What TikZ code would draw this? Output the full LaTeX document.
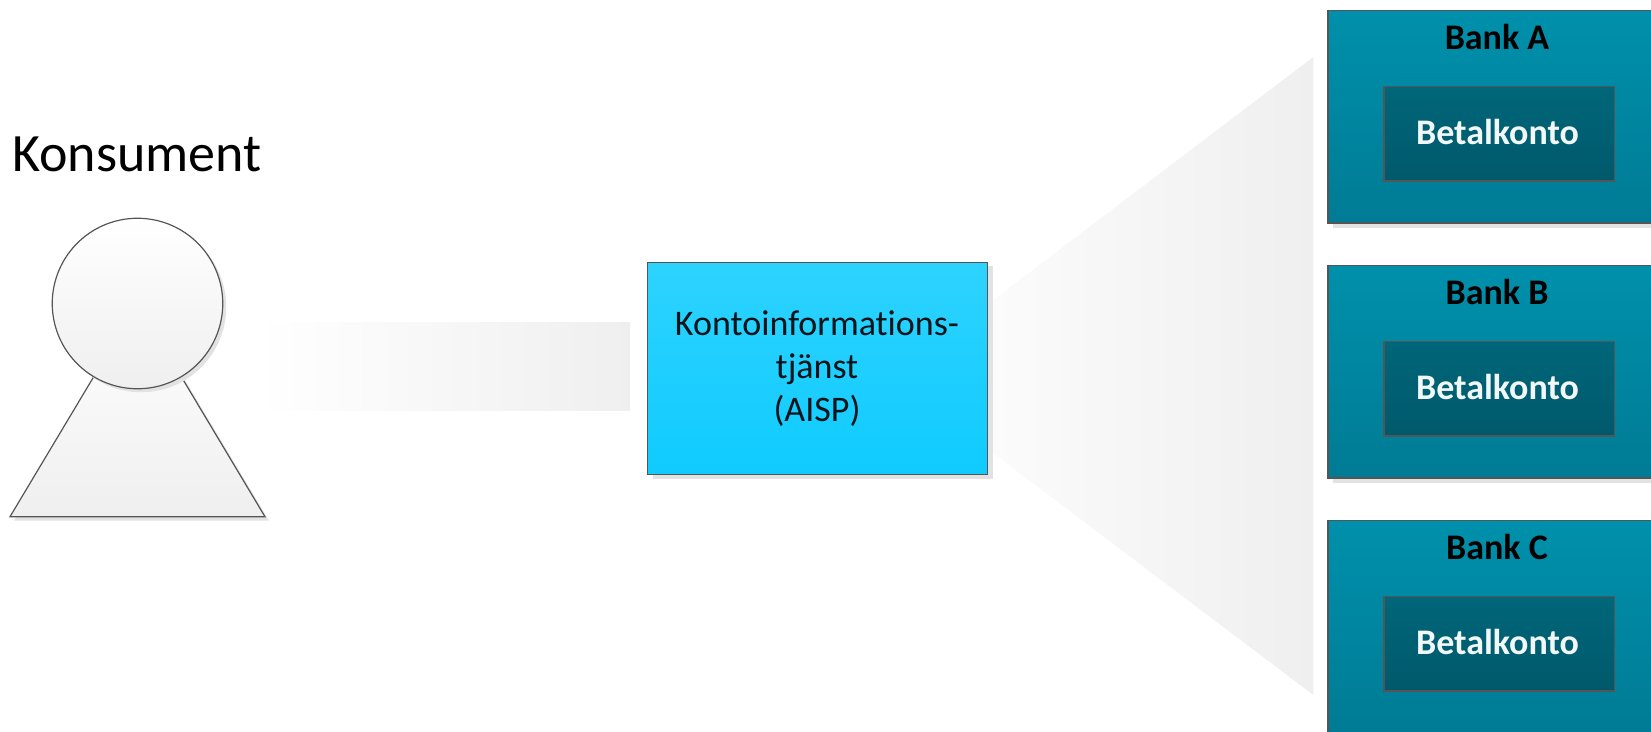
\documentclass[tikz,border=0pt]{standalone}
\usepackage{fontspec}
\setmainfont[Ligatures=NoCommon]{Carlito}
\definecolor{shadowgray}{HTML}{E2E2E2}
\definecolor{fadegray}{HTML}{EFEFEF}
\definecolor{fadestart}{HTML}{FBFBFB}
\definecolor{linegray}{HTML}{555555}
\definecolor{banktop}{HTML}{0090AB}
\definecolor{bankbot}{HTML}{007B95}
\definecolor{acctop}{HTML}{006679}
\definecolor{accbot}{HTML}{00596B}
\definecolor{svctop}{HTML}{2DD3FF}
\definecolor{svcbot}{HTML}{10CBFF}
\tikzset{
  x=1pt,y=-1pt,
  outlined/.style={draw=linegray,line width=1.2pt},
  neutral/.style={outlined,top color=white,bottom color=fadegray},
  bankbox/.style={outlined,rectangle,anchor=north west,minimum width=400pt,minimum height=212.4pt,inner sep=0pt,top color=banktop,bottom color=bankbot},
  bankshadow/.style={fill=shadowgray,draw=none,rectangle,anchor=north west,minimum width=400pt,minimum height=212.4pt,inner sep=0pt},
  acctbox/.style={outlined,rectangle,anchor=north west,minimum width=230.4pt,minimum height=94.4pt,inner sep=0pt,top color=acctop,bottom color=accbot},
  banktext/.style={font=\fontsize{36}{36}\selectfont\bfseries,text=black,anchor=base,inner sep=0pt},
  accttext/.style={font=\fontsize{36}{36}\selectfont\bfseries,text=white!95!acctop,anchor=base,inner sep=0pt},
  svctext/.style={font=\fontsize{36}{36}\selectfont,text=black!90!svcbot,anchor=base,inner sep=0pt},
  fade/.style={draw=none,left color=white,right color=fadegray},
  wedgefade/.style={draw=none,left color=fadestart,right color=fadegray},
}
\begin{document}
\begin{tikzpicture}
\useasboundingbox (0,0) rectangle (1651,731);
\clip (0,0) rectangle (1651,731);
% fading links
\path[fade] (256,322.5) rectangle (630,410);
\path[wedgefade] (993,300) -- (1313.3,57) -- (1313.3,695) -- (993,453) -- cycle;
% person
\coordinate (apex) at (137.5,303.5);
\coordinate (baseL) at (10,516.7);
\coordinate (baseR) at (265,516.7);
\path[fill=shadowgray] ([shift={(4,4)}]apex) -- ([shift={(4,4)}]baseR) -- ([shift={(4,4)}]baseL) -- cycle;
\draw[neutral] (apex) -- (baseR) -- (baseL) -- cycle;
\node[circle,minimum size=170.5pt,inner sep=0pt,fill=shadowgray] (headshadow) at (141,307) {};
\node[circle,minimum size=170.5pt,inner sep=0pt,neutral] (head) at (137.5,303.5) {};
\node[anchor=base west,inner sep=0pt,font=\fontsize{54}{54}\selectfont] (konsument) at (12,171) {Konsument};
% service box
\node[rectangle,anchor=north west,minimum width=340pt,minimum height=212.4pt,inner sep=0pt,fill=shadowgray] (svcshadow) at (652.5,266) {};
\node[outlined,rectangle,anchor=north west,minimum width=340pt,minimum height=212.4pt,inner sep=0pt,top color=svctop,bottom color=svcbot] (svc) at (647,261.5) {};
\node[svctext] (svc1) at (817,335) {Kontoinformations-};
\node[svctext] (svc2) at (817,378) {tjänst};
\node[svctext] (svc3) at (817,421) {(AISP)};
% Bank A
\node[bankshadow] (bankAs) at (1332.5,15) {};
\node[bankbox] (bankA) at (1327.3,10) {};
\node[acctbox] (acctA) at (1383.3,86) {};
\node[banktext] (bankAt) at (1497,49.5) {Bank A};
\node[accttext] (acctAt) at (1497.5,144.5) {Betalkonto};
% Bank B
\node[bankshadow] (bankBs) at (1332.5,270) {};
\node[bankbox] (bankB) at (1327.3,265) {};
\node[acctbox] (acctB) at (1383.3,341) {};
\node[banktext] (bankBt) at (1497,304.5) {Bank B};
\node[accttext] (acctBt) at (1497.5,399.5) {Betalkonto};
% Bank C
\node[bankshadow] (bankCs) at (1332.5,525) {};
\node[bankbox] (bankC) at (1327.3,520) {};
\node[acctbox] (acctC) at (1383.3,596) {};
\node[banktext] (bankCt) at (1497,559.5) {Bank C};
\node[accttext] (acctCt) at (1497.5,654.5) {Betalkonto};
\end{tikzpicture}
\end{document}
